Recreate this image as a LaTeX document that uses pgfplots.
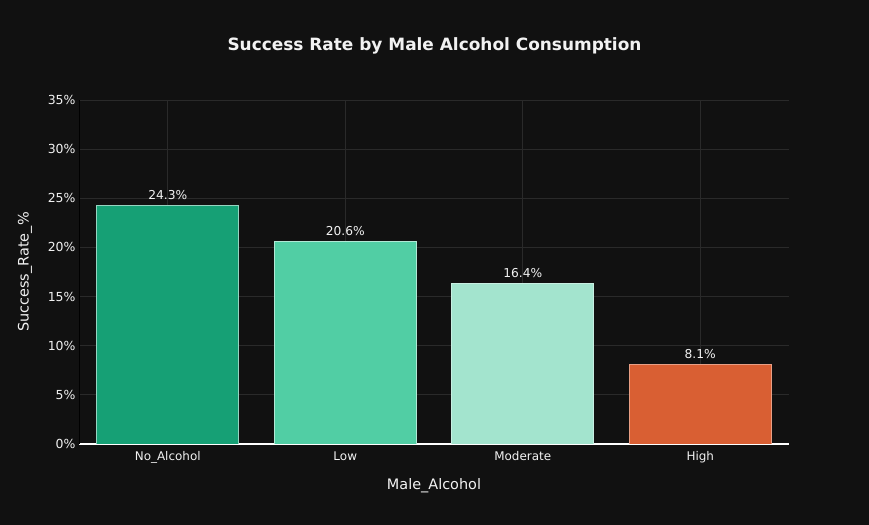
\documentclass[border=0pt]{standalone}
\usepackage{pgfplots}
\pgfplotsset{compat=1.18}
\usepackage{fontspec}
\setmainfont{DejaVu Sans}
\definecolor{bg}{HTML}{111111}
\definecolor{gridc}{HTML}{2A2A2A}
\definecolor{txt}{HTML}{F2F2F2}
\definecolor{cA}{HTML}{16A075}
\definecolor{cB}{HTML}{51CEA4}
\definecolor{cC}{HTML}{A3E4CE}
\definecolor{cD}{HTML}{D95F33}
\begin{document}
\begin{tikzpicture}
\fill[bg] (0,0) rectangle (869bp,525bp);
\useasboundingbox (0,0) rectangle (869bp,525bp);
\begin{axis}[
  at={(79bp,81bp)}, anchor=south west,
  scale only axis, width=710bp, height=344bp,
  xmin=-0.5, xmax=3.5, ymin=0, ymax=35,
  xtick={0,1,2,3},
  xticklabels={No\_Alcohol,Low,Moderate,High},
  ytick={0,5,...,35},
  yticklabel={\pgfmathprintnumber{\tick}\%},
  /pgf/number format/assume math mode=true,
  xticklabel style={font=\fontsize{12}{14}\selectfont, text=txt, yshift=-4bp},
  yticklabel style={font=\fontsize{12.5}{14}\selectfont, text=txt, xshift=0bp},
  major tick length=0pt,
  grid=major,
  major grid style={gridc, line width=0.8bp},
  axis x line*=bottom, axis y line*=left,
  x axis line style={draw=white, line width=1.2bp, -},
  y axis line style={draw=gridc!150, line width=0.8bp, -},
  ybar, bar width=142bp, bar shift=0pt,
  nodes near coords={\pgfmathprintnumber[fixed,precision=1,fixed zerofill]{\pgfplotspointmeta}\%},
  nodes near coords style={font=\fontsize{12.3}{14}\selectfont, text=txt, yshift=2bp},
]
\addplot[fill=cA, draw=white!55!cA, line width=0.6bp] coordinates {(0,24.3)};
\addplot[fill=cB, draw=white!55!cB, line width=0.6bp] coordinates {(1,20.6)};
\addplot[fill=cC, draw=white!40!cC, line width=0.6bp] coordinates {(2,16.4)};
\addplot[fill=cD, draw=white!40!cD, line width=0.6bp] coordinates {(3,8.1)};
\end{axis}
\node[text=txt, font=\bfseries\fontsize{17}{20}\selectfont] at (434.5bp,479bp) {Success Rate by Male Alcohol Consumption};
\node[text=txt, font=\fontsize{14.5}{17}\selectfont] at (434bp,39bp) {Male\_Alcohol};
\node[text=txt, font=\fontsize{14.5}{17}\selectfont, rotate=90] at (25bp,253bp) {Success\_Rate\_\%};
\end{tikzpicture}
\end{document}
